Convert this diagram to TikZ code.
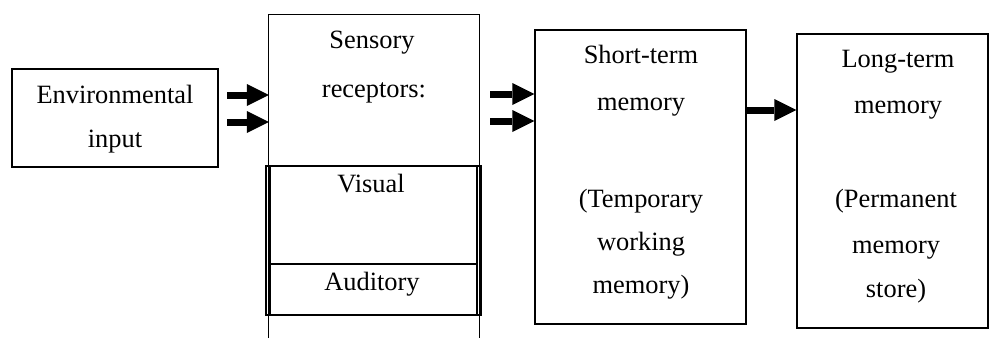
\documentclass[tikz,border=0pt]{standalone}
\usepackage{fontspec}
\setmainfont{Liberation Serif}
\usetikzlibrary{arrows.meta}
\tikzset{
	box/.style={draw=black, line width=1.3pt, inner sep=0pt},
	txt/.style={black, anchor=base, inner sep=0pt, font=\fontsize{26.4}{30}\selectfont},
	fat/.style={draw=black, line width=7pt, -{Triangle[length=22pt, width=22pt, line width=0pt]}}
}
\begin{document}
\begin{tikzpicture}[x=1pt, y=-1pt]
		\useasboundingbox (0,0) rectangle (989,338);
		% boxes
		\node[box, minimum width=206pt, minimum height=98pt] (env) at (115,118) {};
		\node[inner sep=0pt, minimum width=210pt, minimum height=323pt] (sens) at (374,176.5) {};
		\draw[draw=black, line width=1.3pt] (sens.south west) -- (sens.north west) -- (sens.north east) -- (sens.south east);
		\node[box, line width=1.8pt, minimum width=215pt, minimum height=149pt] (chan) at (373.5,240.5) {};
		\node[box, minimum width=207pt, minimum height=98pt] (vis) at (373.5,215) {};
		\node[box, minimum width=207pt, minimum height=51pt] (aud) at (373.5,289.5) {};
		\node[box, minimum width=211pt, minimum height=294pt] (stm) at (640.5,177) {};
		\node[box, minimum width=191pt, minimum height=294pt] (ltm) at (892.5,181) {};
		% texts
		\node[txt] (env1) at (115,103) {Environmental};
		\node[txt] (env2) at (115,147) {input};
		\node[txt] (sens1) at (372,48) {Sensory};
		\node[txt] (sens2) at (374,97) {receptors:};
		\node[txt] (vis1) at (371,192) {Visual};
		\node[txt] (aud1) at (372,290) {Auditory};
		\node[txt] (stm1) at (641,63) {Short-term};
		\node[txt] (stm2) at (641,110) {memory};
		\node[txt] (stm3) at (641,207) {(Temporary};
		\node[txt] (stm4) at (641,250) {working};
		\node[txt] (stm5) at (641,293) {memory)};
		\node[txt] (ltm1) at (898,67) {Long-term};
		\node[txt] (ltm2) at (898,113) {memory};
		\node[txt] (ltm3) at (896,207) {(Permanent};
		\node[txt] (ltm4) at (896,253) {memory};
		\node[txt] (ltm5) at (896,297) {store)};
		% arrows
		\coordinate (a1) at (227,95);
		\coordinate (a2) at (227,122);
		\coordinate (b1) at (490,94);
		\coordinate (b2) at (490,121);
		\coordinate (c1) at (747,110);
		\draw[fat] (a1) -- (a1 -| sens.west);
		\draw[fat] (a2) -- (a2 -| sens.west);
		\draw[fat] (b1) -- (b1 -| stm.west);
		\draw[fat] (b2) -- (b2 -| stm.west);
		\draw[fat] (c1) -- (c1 -| ltm.west);
	\end{tikzpicture}
\end{document}
